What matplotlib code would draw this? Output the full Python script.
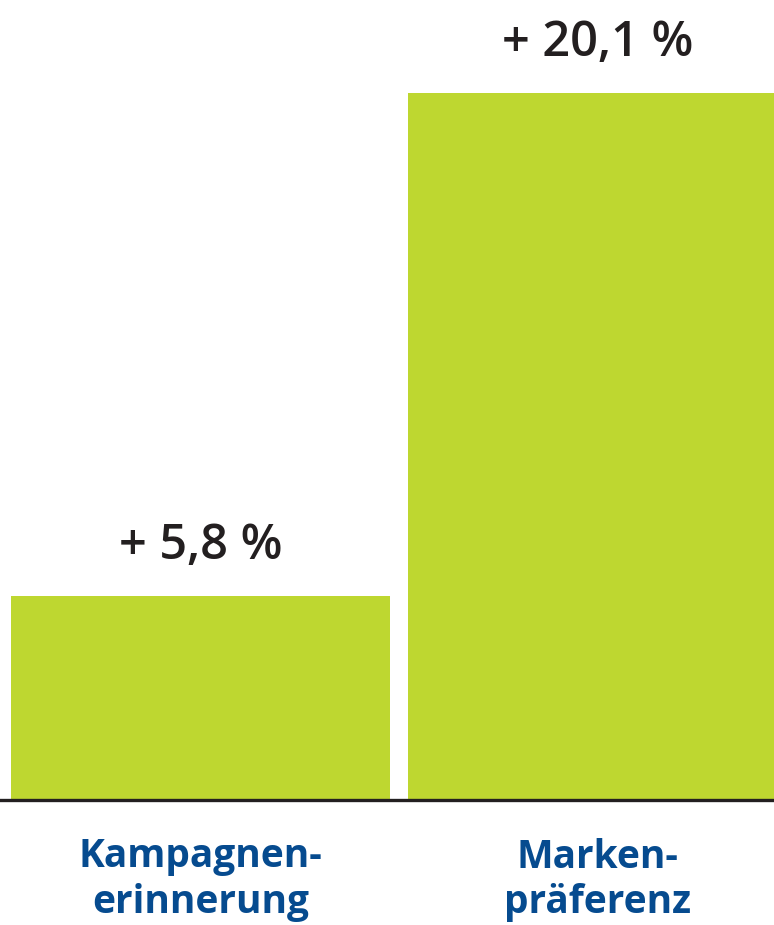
import matplotlib
matplotlib.use('Agg')
import matplotlib.pyplot as plt

# Data
categories = ['Kampagnen-\nerinnerung', 'Marken-\npräferenz']
values = [5.8, 20.1]
value_labels = ['+ 5,8 %', '+ 20,1 %']

green = '#bed730'
blue = '#064b8f'
dark = '#231f20'

plt.rcParams['font.family'] = ['Open Sans', 'DejaVu Sans']

fig = plt.figure(figsize=(7.74, 9.25), dpi=100)
ax = fig.add_axes([0, 125 / 925, 1, 800 / 925])

x = range(len(categories))
ax.bar(x, values, width=0.955, color=green, zorder=2)
ax.axhline(0, color=dark, linewidth=2.4, zorder=3, clip_on=False)

for xi, v, lab in zip(x, values, value_labels):
    ax.annotate(lab, (xi, v), xytext=(0, 27), textcoords='offset points',
                ha='center', va='baseline', fontsize=35, fontweight='semibold', color=dark)

for xi, cat in zip(x, categories):
    ax.annotate(cat, (xi, 0), xytext=(0, -27), textcoords='offset points',
                ha='center', va='top', fontsize=28, fontweight='bold', color=blue,
                linespacing=1.2, annotation_clip=False)

ax.set_xlim(-0.505, 1.4446)
ax.set_ylim(0, 22.75)
ax.axis('off')

fig.savefig('out.png', dpi=100)
